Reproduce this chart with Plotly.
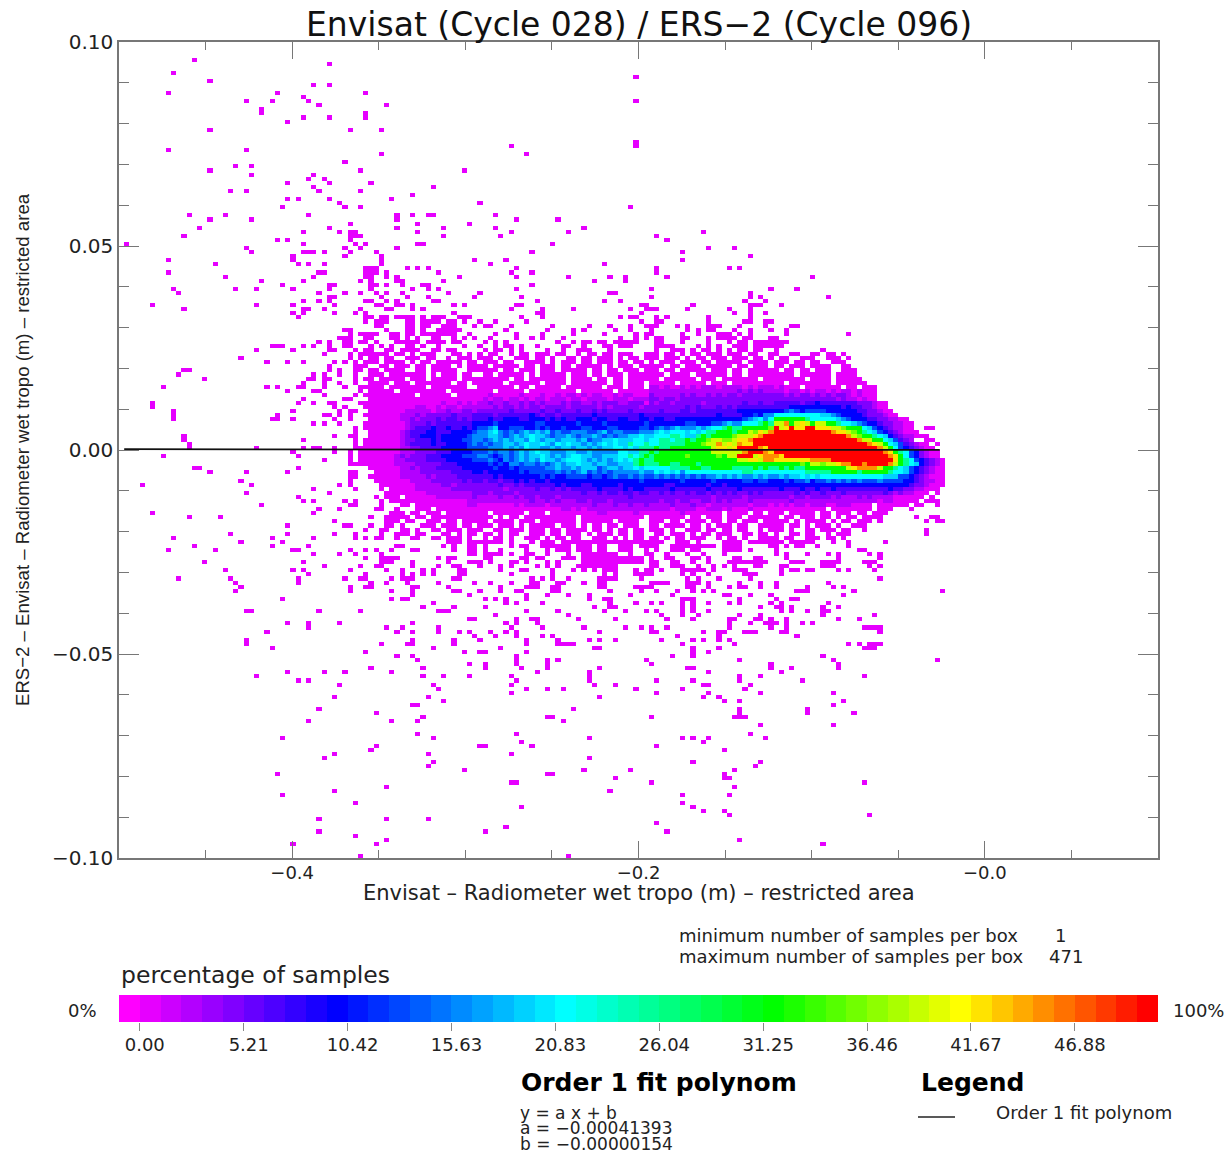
import plotly.graph_objects as go

W, H = 1231, 1153
N_BINS = 200
X_MIN, X_MAX = -0.5, 0.1
Y_MIN, Y_MAX = -0.1, 0.1

# isolated cells: row (from top) -> occupied columns
SPARSE_ROWS = {
4:"14",5:"40",7:"10",8:"99",9:"17",10:"37 40",12:"9 30 47",13:"35",14:"24 29 36 99",15:"38 51",16:"27",17:"27 47",18:"47 35 40",19:"32",
21:"17 44 50",24:"99",25:"99 75",26:"9 24",27:"50 78",29:"43",30:"22 25",31:"17 46 66",32:"25 37",33:"36 39",34:"32 40 48",35:"37 60",
36:"21 24 38 46",37:"56",38:"32 34 40 52",39:"42 69",40:"31 43 46 98",42:"13 20 36 53 56 59 60 72",43:"17 25 53 76 84",44:"44 57 67",
45:"15 40 53 62 72 89",46:"35 42 57 44 45 75 86 112",47:"12 62 44-46 73 103",48:"30 32 44 105",49:"1 35 45 47 57 58 83",50:"24 43 46 53 113 118",
51:"25 35-37 39 44 49 79 108",52:"43 50 33 121",53:"9 33 50 68 74 108",54:"18 34 36 39 50 71 93",55:"47-49 55 57 59 76 103 117 119",
56:"9 38 39 47-49 51 61 75 79 103",57:"20 37 47 48 51 53 65 76 86 94 97 105 133",58:"27 35 46 48 53 54 62 91 97",59:"31 40 41 48 49 51 54 58 59 79",
60:"10 22 26 33 40 48 56 59 61 76 102 125 130",61:"11 38 43 46 49 51 54 63 69 94 95 121",62:"40 41 50 55 59 68 77 102 121 123 136",
63:"35 38 40 47 48 51 53 60 61 80 93 96 120 124",64:"6 26 33 41 49 50 53 54 56 64 66 76 77 100 101 110 121-123 127",
65:"12 35 36 39 46 51 52 56 58 75 81 87 98 101-103 109 117 121",66:"33 35 41 45 47 64 80 81 100 118 121 124",
67:"34 47 48 50 51 53-56 58 60-62 65-67 77 81 96 98 99 103 105 113 121",68:"47 49-51 55 56 58-61 63 64 66 69 72 78 100 103 104 113 120 121 124 125",
69:"49 50 55 56 58 59 62-64 68 70 71 75 83 90 94 98 101-103 107 109 113-115 119 124 129 130",
70:"43 44 51 55 56 58 61-65 74 82 87 89 95 98 102 109 111 113 114 118 121 125 128",
71:"44 46-49 52 53 55 56 58-64 67 72 76 81 87 93 99 101 102 108 111 115-117 119 121 128 140",
72:"42-44 47 48 52 53 55 57 60 61 64 66 68 71 76 79 81 85 96 99 101 103 104 108 109 113 115-118 120 121 125 126",
73:"38 40 43 44 46 47 49 53-57 59-62 64 65 70 72 74 84 87 89 90 92 93 95-99 103 104 108 113 117 119 120 122 123-128 125",
74:"29-31 35 37 40 43 44 48 50 52 55 56 58 61 66 69 72 74 75 77 80 85 86 89 93 94 96-98 103-106 111 113 115 118-120 122-127",
75:"26 33 40 41 45 47 48 51 52 54-57 60 61 63 64 70 72 73 75 77 82 85 88-90 94 103 106-108 110 112 113 115 117 119 120 122 123 126 135",
76:"39 44 48 49",77:"23 44 46",78:"28 32 35 41 43 45",79:"40 45",80:"12 13 40 42 45",81:"11 37 39 42 45",82:"16 36 37 39 40 45",83:"35 39 42 45",
84:"8 28 30 34 35 39 43 46",85:"32 37 38 46",86:"39 45",87:"35 43 44",88:"6 34 37 40 41 46",89:"6 41 43 47",90:"10 33 42 44 45",91:"10 30 39 40 42 44",
92:"10 29 30 33 41 44",93:"37 39 42",94:"45",95:"45",96:"12 41 44 45",97:"12 35 45",98:"13 45",99:"13 26 35 37 38 41 45",100:"33 41 44",101:"8 34 44 46",
102:"39 44 46",103:"44 45",104:"14 15 34",105:"17 24 32 44 45",106:"44 45",107:"23 44",108:"4 25 42 44",109:"37 45",110:"24 40",111:"34",112:"35 37 43 45",
113:"27 44 45",114:"38 42",115:"6 37",116:"13 19",117:"41 155 157 158",118:"32 43 44",119:"155",120:"21 32 41 45 155",121:"10 29 37 45 47",
122:"23 31 63-65 67-73 75 79 81-83 85-103 104 107-109 111 116-119 121-127 129-132 133 137 140 147",
123:"14 29 36 53 54 62 64 67 68 70 75 77 78 81 82-86 88-90 92 93 96-98 100-103 106-113 114 116-119 125 126 128 130 131 134 140",
124:"9 18 33 34 44 47 49 52 56 57 64 67 68 70 73 78 82 84-86 88-90 92 93 96-98 101 103 106-108 110 111 116-119 121 126 142 143",
125:"37 42 45 50 67 68 70-73 75 78 79 82 86 89 90-95 98 101 102 105 109 112 116 126 128 132 136 138 144 146",
126:"47 50-53 61 63 64 70 71 77 78 80 81 85-87 89 90 91-100 102 105 106 110 111 113 118 119 122 123 128 138 146",
127:"16 35 50-52 56 63 67-69 71 75 76 78 82 84 89-91 92-97 98-100 102 103 106 107 110 113 117-120 121-124 129-131 135-138 143-145",
128:"39 46 49 50 56 61 64 65 69 73 75 80 82 84 88-95 102 103 106-108 111 114 116 118 122 123 128 127 135-137 144 146",
129:"20 33 35 44 51 54 58 60 65 66 73 77 78 83 87 89 91 93-95 99 101 102 104 108-112 114 118-120 127 129 130 132 133 138 140 145",
130:"36 47 54 56 58 60 65 66 75 83 93 95 99 100-102 108 110 113 120-122 127",
131:"11 21 34 43 46 47 52 54 55 56 64 65 79 81 83 86 92-95 100 109 111 115 121 146",132:"22 34 48 51 55 61 68 71 75 79 80 84 85 89 92 93 102-105 109-111 113 119 123 126 136",
133:"23 44 47 48 56 57 63 63 73 78-80 83 84 92 93 99-102 109 110 113 117 119 120 123 126 132 137 139",134:"22 44 52 56 64 65 69 73 76 77 83 84 94 100 103 107 110 112 114 130-132 141 158",
135:"56 67 78 82 86 90 98 106 116 117 121 125 139",136:"31 52 54 55 70 72 74 78 90 93 94 108-110 119 126 129 130",137:"60 74 76 81 94 99 102 104 108 110 113 117 119 125 127 136",
138:"58 64 70 91 94 95 108 110 123 126 127 129 127 135 138",139:"24 25 38 46 61-63 78 84 93 97 101 103 108 110 113 127 129 132 135 136",
140:"72 86 104 108 111 119 123 135 145",141:"67 68 76 79 80 88 95 105 110 117 118 122 123 125 128 138 142",142:"32 36 42 56 74 76 80 117 121 124 125 126 128 131 133",
143:"36 51 54 61 75 81 89 97 100 102 105 117 125 128 143-146",144:"28 53 56 61 65 67 71 74 76 92 102 103 112 115 116 120-122 128 127 146",145:"68 72 76 81 83 107 115 130",
146:"24 56 64 69 78 84 90 92 95 104 110 112 115 117",147:"24 50 55 56 64 78 84-87 108 118 140 142 144-146",148:"29 60 73 91 92 110 115 143-145",149:"47 66 69 70 78 110 113",
150:"53 56 76 106 110 135",151:"57 76 82 84 101 119 137 157",152:"67 70 76 82 102 125 138",153:"48 58 70 77 82 92 109 110 125 129 138",154:"32 39 43 52 80 90 113 127",
155:"26 58 62 67 75 90 119 123 143",156:"34 36 76 90 103 110 119 131",157:"42 60 75 91 95 112 113 121",158:"61 78 82 85 99 108 120",159:"75 103 113 123 137",160:"41 59 92 112 115",
161:"62 116 119 139",162:"56 57 137",163:"38 87 119 132",164:"49 119 132 141",165:"58 82 83 102 118-120",166:"36 52 57 85",167:"123 137",169:"57 76 121",170:"31 60 90 108 110 113 124",
171:"77 112",172:"49 69 70 79 103",173:"48 116",174:"41 59 75",175:"39 90",176:"60 110 123",177:"59 122",178:"66 89 98 118",179:"30 82 83 116",180:"95 116 117",181:"75 76 102 143",
182:"51 118",183:"41 94",184:"31 108 117",186:"45 108",187:"77 110",188:"112 116",189:"117 144",190:"38 51 59",191:"103",192:"74",193:"38 70 105",194:"45",195:"51 119",196:"33 49 135",199:"46 86",
}

# main cloud, rows from top; four blocks of columns 46-69 | 70-101 | 102-125 | 126-160
CLOUD_ROWS = {
76:"..  .. .. . ...   .. . .| ..  . .. ... ..  . .. .. ...  .|.. .. . .. ... ... ..  .|.  ..  .. .. .",
77:". .. ..  ... ..  . ... .|.. .  ... .. .  .. .. ... . .. .|.. ... . .. ... ... .. .| ..  ...  ... .",
78:" ... .... . .. ..... .. |... ..  .... . ... .. ... .. .. |. ... ... .. ..... ....  |... .. ..  ...",
79:"..  .. ... .. .... . ...|. ..... .. ... .. ..... . ... ..|... .. ... ..... .. ... |.. ... ....  ..",
80:". .. ....  .. .....  ...|... .. ... ... ..... .. .. ... .|.. .. ..... ... .. .....|. .. .. ...  ...",
81:"  ... ....... . ... ..  |.. ..... . ..... ... .. ... ....|... .... ...... .. .....|.... ...... ....",
82:" .. ..... ... ..... ....|..... .. ....... .... .. .. ....|.. ...... ... ....... ..|...... .... .....",
83:"  .... ... ....... .. ..|.... ...... .... ....... .. ... |..... ..... ... ........|.. ........ ......",
84:" .... ....... .......  .|...... .. ..... ....... ... ... |pp.p..p.p.ppp.pppp.p.ppp|.p... ....... .. ...",
85:"  ..... ......... ......|.. ..... ......... ...... ......|pppppppppppppppppqpqpqpp|pp.pp.p.pp.p.pp.p...",
86:" .......... ...... .....|.p.....p...p..p.pp.p.pp..p.pp...|qpppppqpqppqpqpqqpqqqqqq|qqpqpqqpqpqpqqp.p...",
87:"  ......................|p.pp.pp.p.pp.ppp.pp.pppp.ppp.ppp|qqpqqpqqqqqqqqqqqqqqqqqq|qqqqqqqqqqqqpqpp.p..",
88:" ...............p..p.p.p|pqppqppqpqpqpppqpqqppqpqqqppqqq.|qpqqpqqqqqpqqqqqqqrqqrqq|rrrrrqrrbrrrrrrrqqqp..",
89:"  .........pp..p.pp.pppp|ppqpqqpqpqqpqqqqpqqqqqpqpqqqqqpq|qqqqqqqrqrqqqrqrqrrrrrrr|rrrbbbbbbbbbbrbrrqqp..",
90:"  .......ppppp.ppqppqqpq|qqqqqrqqqqqrqqrqqqrqqrqrqqqqrqqq|qqrqqqrrqrrrrrrrrbbbbbbb|bbBcBbBBBBbbbbbbrrqqp..",
91:" .......pppqpqqqqqrqqqrr|rrqrrrrrrbrqrrqrrrrrrbrrrrrrrrbr|rrrrrrrrrrrrrbrrrrbbBbcc|yyyyyyyyyCCcBbbbbrqqqp..",
92:"  ......ppqpqqqrqrrqrqrr|rbrrbbbrrbbbrbrbrrbbbrbbrrbbrrbb|rbbrrbbbbbbbbbbbbbBcCycy|GGGGGGgyyyyyCcBbbbrrqqpp..",
93:" ........pqqqrqrrrrrrrbb|bbBbbbbbbbBBbbbbbbBbbbbBbbbbbbbB|bbbbbbbBBbbbBBcCccyyygGg|LLoGLYLGLLGGgyyCcBbbrqqpp..",
94:" ........pqrrrbrrbrrbrbB|BcCbbBBBbbBbBbbBbbbBBbbbBBbbbbBB|bBcBcCcccCcCyygGggGGGGGl|RLYRYYRRYYYLLlGGGyCBbrqpp..  ..",
95:"  ......pqrrrbbrrrbbbbBc|cCycBcBcCcCcCBcBBcccBBcCBccBBBcc|cCyCyyyCyCyggGGGgGGLlYLo|RRRRRRRRRRRoYYLlGgyCBbrqp...",
96:"  ......pqrrbbbrbbbbbBcc|cCCcBcCcCyCCcBccCcBccCcBcBccCCyC|CyyyggyCCgGgGGGGlLLLYoRR|RRRRRRRRRRRRRRoLlGGgyCbrqpp...",
97:" .......pqqrrrbrbbbbBBcc|BcCcCcCCcyCcCCcCCCcCBccCCyCCCyyC|yyggyggGgGGlLLllLYYoRRRR|RRRRRRRRRRRRRRRRoLLGGyCBrqp  ..",
98:" .......pqrrrrbrrbbbbBcB|cBccCCcCyCCyCcyCyCCcCcCyCyCCgyyg|yygggggGGGlLLoLYLoYYRRRR|RRRRRRRRRRRRRRRRRRoYLGyCBrqp.. .",
99:"........ppqqrrrrbbbbbBBB|BcccCcCcyCCccCcCCcCCcCcCCyyCyCgg|gGggGGGGGGGGLYYLYRRRRoYR|RRRRRRRRRRRRRRRRRRRRoLGyBbrqp..",
100:"........pppqqqqrrrbbbbBB|BcBccBcCcCyCCcccCCccCcccccyyCCgg|GgGGGGGGGGGGLLLLLLoRRRoY|RRRRRRRRRRRRRRRRRRRRRoYGgyBbqp..",
101:".......pqpqqqrrrbbbbBBBc|cBbBcBcCcCCyCcCcCyyCCccCCCyygygG|gGGGGGGlGGGGGlGLLRRRLYoo|oYRRRRRRRRRRRRRRRRRRRRoYGyBbqp..",
102:" ......ppqqqqrrrrbbbbbBB|BcBbcBcCcCcyCCcCyyyCcCcCcCyCygGg|gGGGGGGGGGGGGGGGGLLYYLoo|YYYYYYYooooRRRRRRRRRRRRYGgyBbrqp.",
103:".......ppppqqqqqrrrbbbbb|bBbBbccBccBcBcCcCCyCCcCCccCCCgGg|ggGGggGGGgGGGGGGGGGGGGGG|GGGGGlGLLlLLYooRRoRRRRoLGgyCbrqp.",
104:"  ......ppqpqqqrrrrrbbbb|bbBbbBbBBBBBccCccCcCCCBcCCcCCyCy|yyyyggggGGggGGGGggggGgGg|gGgGggGGGGGGGGLYooooLGGgyCBbrqp..",
105:"   .....ppppqqqqqqrrrrbb|rbbbbbbBbBBBBBcBcBcCBcBcBcccccCc|cyCyCycyyyyyyyyyyyggyyyy|yyyyyygggggGGGGGgGGGGGgyyCBbrqp..",
106:"  ......pppppqpqqqqrrrrr|rrbrbbbbbbbBbBbbBBBBbBBbBcBBcBcB|BcBcBcBcBcBccCcCcCccCcCc|cCcCCyCyCyyyyyyyyyyyyCCCBBbrqp...",
107:"   .......ppppqqqqqqrqrr|qrrqrrbrbrbbrbbbbbbbbbbbbbbbbbBb|bbbbbbBbbbbbBbbbbbBBbBBb|bbBbBBcbBBcBcBcBcBBBcBBBBbbrqpp..",
108:"    .......pppppqqpqqqqq|qqqrqqrqrrrrrrbrbbbrrbbbbbrbbbbb|bbbrrbbbbbbrbbrbbbbbbbbb|bbbbbbbbbbbbbbbbbbbbbbbbbbrqqp...",
109:"    . .....pppppppqqqqqq|qqqqpqqqqqrqqrqrqrrrrrbrrrrbrbbr|rrrrbrrrrrrbrrrrrbrrrrrr|rbrrrbrrbrrbrrrrrrrrrrbrrqqpp...",
110:"     ........pppppppppqq|qpqqqqpqqqqqqqqqqqqrqqrqrrqrrqrr|qqrqrqqrqrrqrqrqrqqrqrqq|qqqqrqrqqrqqqrqqqqqqqrqpqpp... .",
111:"   . ... ......pppppppqp|pppqppqpqqpqqqpqqqqqqqqqqqqqrqqq|qqqqqqqqqqqqpqqqqqpqqqqq|qqqpqqpqqqqpqpppqpqpppp...... .",
112:"    . ...............ppp|pppppppppqppqpqpppqqpqqqpqqqqqqq|qqpqqpqqppqqpqpqpppqpppp|pppqpppppppppppppppp.pp..... ...",
113:"    .   .. ..........pp.|......p.pppp.ppppppppqpppqppqppq|ppppqpppqpp.ppppppp.ppp.|p.p.pp.ppp..ppp.... ...... ..  .",
114:"   ..  .   ... .........|...............pp.p.pppppppppppp|pppp.pppp..ppp.p...p....|.......... ........ ...   .",
115:"      ... .. ... .......|. ...... ... .........pp.....p..|......p....... .... .. .|.. ..... .. ... .. ...",
116:"  .  ..... .. ..........|.. . .. .......... ............|....... .. ... ... .....|. .. ... .. . .. ....      .  ..",
117:"     ... ..  ... .. ....|. .... ... ....... ...... .... |... .. .... .. .. ... ..|... . .... . .. ... .",
118:"  .  .. .   ... ... .. .|.. ... . ..... ... . .. .. ... |.. .... .. . ... ..  ...|.. .. . ... .  ...",
119:" .  ..  .. .  .. ... ...|  .. ... ... .. .... .. . .. ..|... .  ... .. .. ..  . .|.. .  .. ... ..  .",
120:"    .  ... ..   .. . .. |.. . ..  ... .. ... . ... .. ..| .. ... . .. ...  .. .. |.  .. ..  . ...",
121:"   ..  .  ..  .. ... .  |. .. .  ... . .. ..  ... . . ..|.. . .. ...  . .. .  ...|. ..  ... .. .",
}

LEVEL_OF_CODE = {".": 1, "p": 3, "q": 5, "r": 7, "b": 10, "B": 13, "c": 16, "C": 19, "y": 21, "g": 25,
                 "G": 31, "l": 35, "L": 38, "Y": 41, "o": 44, "R": 49}
BLOCK_STARTS = [46, 70, 102, 126]

# colour table of the scale bar, by box number
SCALE_BOXES = list(range(50))
SCALE_TICK_BOXES = [1, 6, 11, 16, 21, 26, 31, 36, 41, 46]
SCALE_TICK_LABELS = ["0.00", "5.21", "10.42", "15.63", "20.83", "26.04", "31.25", "36.46", "41.67", "46.88"]

FIT_X = [-0.497, -0.026]
FIT_Y = [0.000204, 0.000009]

X_MAJOR = [-0.4, -0.2, 0.0]
X_MAJOR_TEXT = ["\u22120.4", "\u22120.2", "\u22120.0"]
X_MINOR = [-0.45, -0.35, -0.3, -0.25, -0.15, -0.1, -0.05, 0.05]
Y_MAJOR = [-0.10, -0.05, 0.0, 0.05, 0.10]
Y_MAJOR_TEXT = ["\u22120.10", "\u22120.05", "0.00", "0.05", "0.10"]
Y_MINOR = [-0.09, -0.08, -0.07, -0.06, -0.04, -0.03, -0.02, -0.01, 0.01, 0.02, 0.03, 0.04, 0.06, 0.07, 0.08, 0.09]

z = [[None] * N_BINS for _ in range(N_BINS)]
for row, text in SPARSE_ROWS.items():
    for part in text.split():
        a, _, b = part.partition("-")
        for col in range(int(a), int(b or a) + 1):
            z[row][col] = 1
for row, text in CLOUD_ROWS.items():
    for start, block in zip(BLOCK_STARTS, text.split("|")):
        for k, ch in enumerate(block):
            if ch != " ":
                z[row][start + k] = LEVEL_OF_CODE[ch]

dx = (X_MAX - X_MIN) / N_BINS
dy = (Y_MAX - Y_MIN) / N_BINS
x_centers = [X_MIN + dx * (i + 0.5) for i in range(N_BINS)]
y_centers = [Y_MAX - dy * (j + 0.5) for j in range(N_BINS)]

SCALE = [[0, "#ff00ff"], [10 / 49, "#0000ff"], [21 / 49, "#00ffff"], [31 / 49, "#00ff00"], [40 / 49, "#ffff00"], [1, "#ff0000"]]

def px(v):
    return v / W

def py(v):
    return 1 - v / H

AX = "#777777"
fig = go.Figure()
fig.add_trace(go.Heatmap(x=x_centers, y=y_centers, z=z, colorscale=SCALE, zmin=0, zmax=49, showscale=False, hoverinfo="skip"))
fig.add_trace(go.Scatter(x=FIT_X, y=FIT_Y, mode="lines", line=dict(color="#111111", width=1.8), showlegend=False, hoverinfo="skip"))
fig.add_trace(go.Heatmap(x=[b + 0.5 for b in SCALE_BOXES], y=[0], z=[SCALE_BOXES], colorscale=SCALE, zmin=0, zmax=49,
                         showscale=False, xaxis="x2", yaxis="y2", hoverinfo="skip"))

fig.update_layout(
    width=W, height=H, margin=dict(l=0, r=0, t=0, b=0, autoexpand=False),
    paper_bgcolor="white", plot_bgcolor="white", showlegend=False,
    xaxis=dict(domain=[px(119), px(1158)], range=[X_MIN, X_MAX], showgrid=False, zeroline=False, showline=True, mirror="ticks",
               linecolor=AX, linewidth=1.5, ticks="inside", ticklen=17, tickcolor=AX, tickwidth=1, tickmode="array",
               tickvals=X_MAJOR, ticktext=X_MAJOR_TEXT, tickfont=dict(family="DejaVu Sans", size=18, color="#222222"), ticklabelstandoff=-2,
               minor=dict(tickmode="array", tickvals=X_MINOR, ticks="inside", ticklen=8, tickcolor=AX, tickwidth=1, showgrid=False)),
    yaxis=dict(domain=[py(858), py(42)], range=[Y_MIN, Y_MAX], showgrid=False, zeroline=False, showline=True, mirror="ticks",
               linecolor=AX, linewidth=1.5, ticks="inside", ticklen=20, tickcolor=AX, tickwidth=1, tickmode="array",
               tickvals=Y_MAJOR, ticktext=Y_MAJOR_TEXT, tickfont=dict(family="DejaVu Sans", size=20, color="#222222"),
               minor=dict(tickmode="array", tickvals=Y_MINOR, ticks="inside", ticklen=10, tickcolor=AX, tickwidth=1, showgrid=False)),
    xaxis2=dict(domain=[px(119), px(1158)], anchor="y2", range=[0, 50], showgrid=False, zeroline=False, showline=False,
                ticks="outside", ticklen=8, tickcolor="#888888", tickwidth=1, tickmode="array", tickvals=SCALE_TICK_BOXES,
                ticktext=SCALE_TICK_LABELS, tickfont=dict(family="DejaVu Sans", size=18, color="#222222"), ticklabelshift=5, ticklabelstandoff=-2),
    yaxis2=dict(domain=[py(1022), py(995)], anchor="x2", range=[-0.5, 0.5], visible=False),
    shapes=[dict(type="line", xref="paper", yref="paper", x0=px(918), x1=px(955), y0=py(1117), y1=py(1117), line=dict(color="#222222", width=1.5))],
)

def note(text, x, y, size, anchor="left", family="DejaVu Sans", angle=0, color="#222222"):
    fig.add_annotation(text=text, xref="paper", yref="paper", x=px(x), y=py(y), xanchor=anchor, yanchor="middle",
                       showarrow=False, textangle=angle, font=dict(family=family, size=size, color=color))

note("Envisat (Cycle 028) / ERS\u22122 (Cycle 096)", 638.5, 24, 33, "center", color="#111111")
note("Envisat \u2013 Radiometer wet tropo (m) \u2013 restricted area", 639, 893, 21, "center")
note("ERS\u22122 \u2013 Envisat \u2013 Radiometer wet tropo (m) \u2013 restricted area", 23, 450, 18.6, "center", "Liberation Sans", -90)
note("minimum number of samples per box", 677, 935, 18)
note("1", 1060, 935, 18, "center")
note("maximum number of samples per box", 677, 956, 18)
note("471", 1066, 956, 18, "center")
note("percentage of samples", 119, 975, 23.5)
note("0%", 99, 1010, 18, "right")
note("100%", 1171, 1010, 18)
note("<b>Order 1 fit polynom</b>", 519, 1082, 25, color="#000000")
note("<b>Legend</b>", 919, 1082, 25, color="#000000")
note("y = a x + b", 518, 1113, 17)
note("a = \u22120.00041393", 518, 1128, 17)
note("b = \u22120.00000154", 518, 1144, 17)
note("Order 1 fit polynom", 994, 1112, 18)

fig.write_html("out.html", post_script="document.body.style.margin='0';", config={"displayModeBar": False})
